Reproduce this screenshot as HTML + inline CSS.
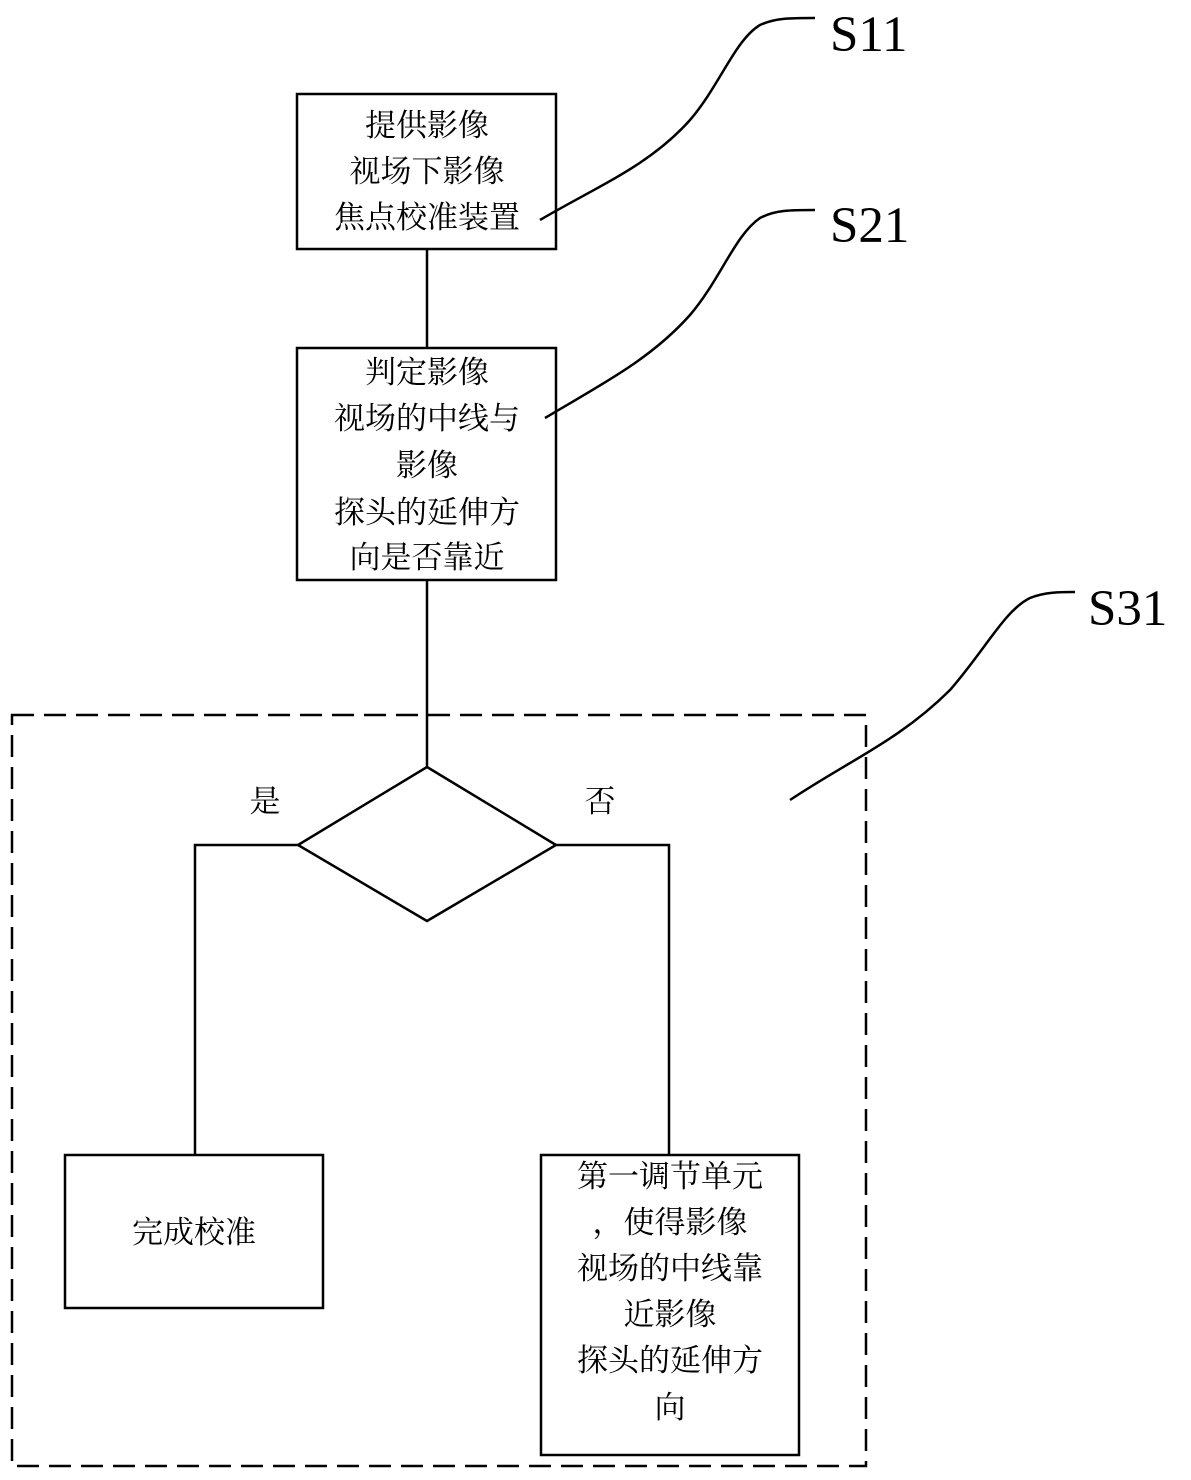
<!DOCTYPE html>
<html><head><meta charset="utf-8"><style>
html,body{margin:0;padding:0;background:#fff;}
svg{display:block;}
.t{font-family:"Liberation Serif","Noto Serif CJK SC",serif;font-size:31px;fill:#000;text-anchor:middle;}
.s{font-family:"Liberation Serif",serif;font-size:51px;fill:#000;}
</style></head><body>
<svg width="1191" height="1480" viewBox="0 0 1191 1480" xmlns="http://www.w3.org/2000/svg">
<g fill="none" stroke="#000" stroke-width="2.5">
<rect x="297" y="94" width="259" height="155"/>
<line x1="427" y1="249" x2="427" y2="348"/>
<rect x="297" y="348" width="259" height="232"/>
<line x1="427" y1="580" x2="427" y2="767"/>
<rect x="12" y="715" width="854" height="751" stroke-dasharray="22,10"/>
<polygon points="427,767 556,845 427,921 298,845"/>
<polyline points="298,845 195,845 195,1155"/>
<polyline points="556,845 669,845 669,1155"/>
<rect x="65" y="1155" width="258" height="153"/>
<rect x="541" y="1155" width="258" height="300"/>
<path d="M540,220 C600,185 650,165 690,120 C720,85 735,40 760,25 C775,18 790,18 815,18"/>
<path d="M545,418 C600,385 650,360 690,315 C720,280 735,235 760,218 C775,210 790,210 815,210"/>
<path d="M790,800 C850,760 900,740 950,690 C985,650 1005,610 1030,598 C1045,592 1060,592 1075,592"/>
</g>
<g class="t">
<text x="427" y="136">提供影像</text>
<text x="427" y="182">视场下影像</text>
<text x="427" y="228">焦点校准装置</text>
<text x="427" y="383">判定影像</text>
<text x="427" y="429">视场的中线与</text>
<text x="427" y="476">影像</text>
<text x="427" y="523">探头的延伸方</text>
<text x="427" y="568">向是否靠近</text>
<text x="265" y="812">是</text>
<text x="600" y="812">否</text>
<text x="194" y="1243">完成校准</text>
<text x="670" y="1187">第一调节单元</text>
<text x="670" y="1233">，使得影像</text>
<text x="670" y="1279">视场的中线靠</text>
<text x="670" y="1325">近影像</text>
<text x="670" y="1371">探头的延伸方</text>
<text x="670" y="1418">向</text>
</g>
<text class="s" x="830" y="51">S11</text>
<text class="s" x="830" y="242">S21</text>
<text class="s" x="1088" y="625">S31</text>
</svg>
</body></html>
